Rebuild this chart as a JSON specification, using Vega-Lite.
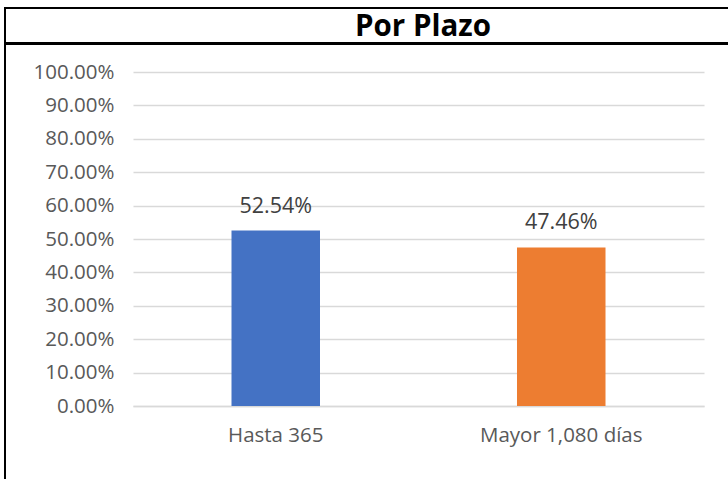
{
  "$schema": "https://vega.github.io/schema/vega-lite/v6.json",
  "padding": {"left": 4, "top": 7, "right": 0, "bottom": 0},
  "background": "white",
  "spacing": -2,
  "config": {"view": {"stroke": null}, "font": "Open Sans"},
  "vconcat": [
    {
      "width": 726,
      "height": 35,
      "view": {"stroke": "black", "strokeWidth": 2},
      "data": {"values": [{"t": "Por Plazo"}]},
      "mark": {"type": "text", "fontSize": 29.5, "fontWeight": "bold", "color": "black", "font": "Open Sans", "dx": 55, "dy": 1},
      "encoding": {
        "text": {"field": "t"},
        "x": {"field": "t", "type": "nominal", "axis": null},
        "y": {"field": "t", "type": "nominal", "axis": null}
      }
    },
    {
      "width": 726,
      "height": 440,
      "view": {"stroke": "black", "strokeWidth": 2},
      "data": {"values": [
        {"plazo": "Hasta 365", "pct": 0.5254},
        {"plazo": "Mayor 1,080 días", "pct": 0.4746}
      ]},
      "encoding": {
        "x": {"field": "plazo", "type": "nominal", "sort": null,
          "scale": {"paddingInner": 0.69, "paddingOuter": 0.345, "range": [128, 699]},
          "axis": {"title": null, "labelAngle": 0, "labelFontSize": 20.5, "labelColor": "#595959", "labelPadding": 19, "offset": -78, "ticks": false, "domainColor": "#d9d9d9", "domainWidth": 1.5}},
        "y": {"field": "pct", "type": "quantitative",
          "scale": {"domain": [0, 1], "range": [362, 28]},
          "axis": {"title": null, "offset": -128, "format": ".2%", "values": [0,0.1,0.2,0.3,0.4,0.5,0.6,0.7,0.8,0.9,1], "labelFontSize": 20.5, "labelColor": "#595959", "labelPadding": 19, "ticks": false, "domain": false, "gridColor": "#d9d9d9", "gridWidth": 1.5}}
      },
      "layer": [
        {"mark": {"type": "bar"},
         "encoding": {"color": {"field": "plazo", "type": "nominal", "scale": {"range": ["#4472C4", "#ED7D31"]}, "legend": null}}},
        {"mark": {"type": "text", "dy": -24, "fontSize": 21.5, "color": "#404040"},
         "encoding": {"text": {"field": "pct", "type": "quantitative", "format": ".2%"}}}
      ]
    }
  ]
}
